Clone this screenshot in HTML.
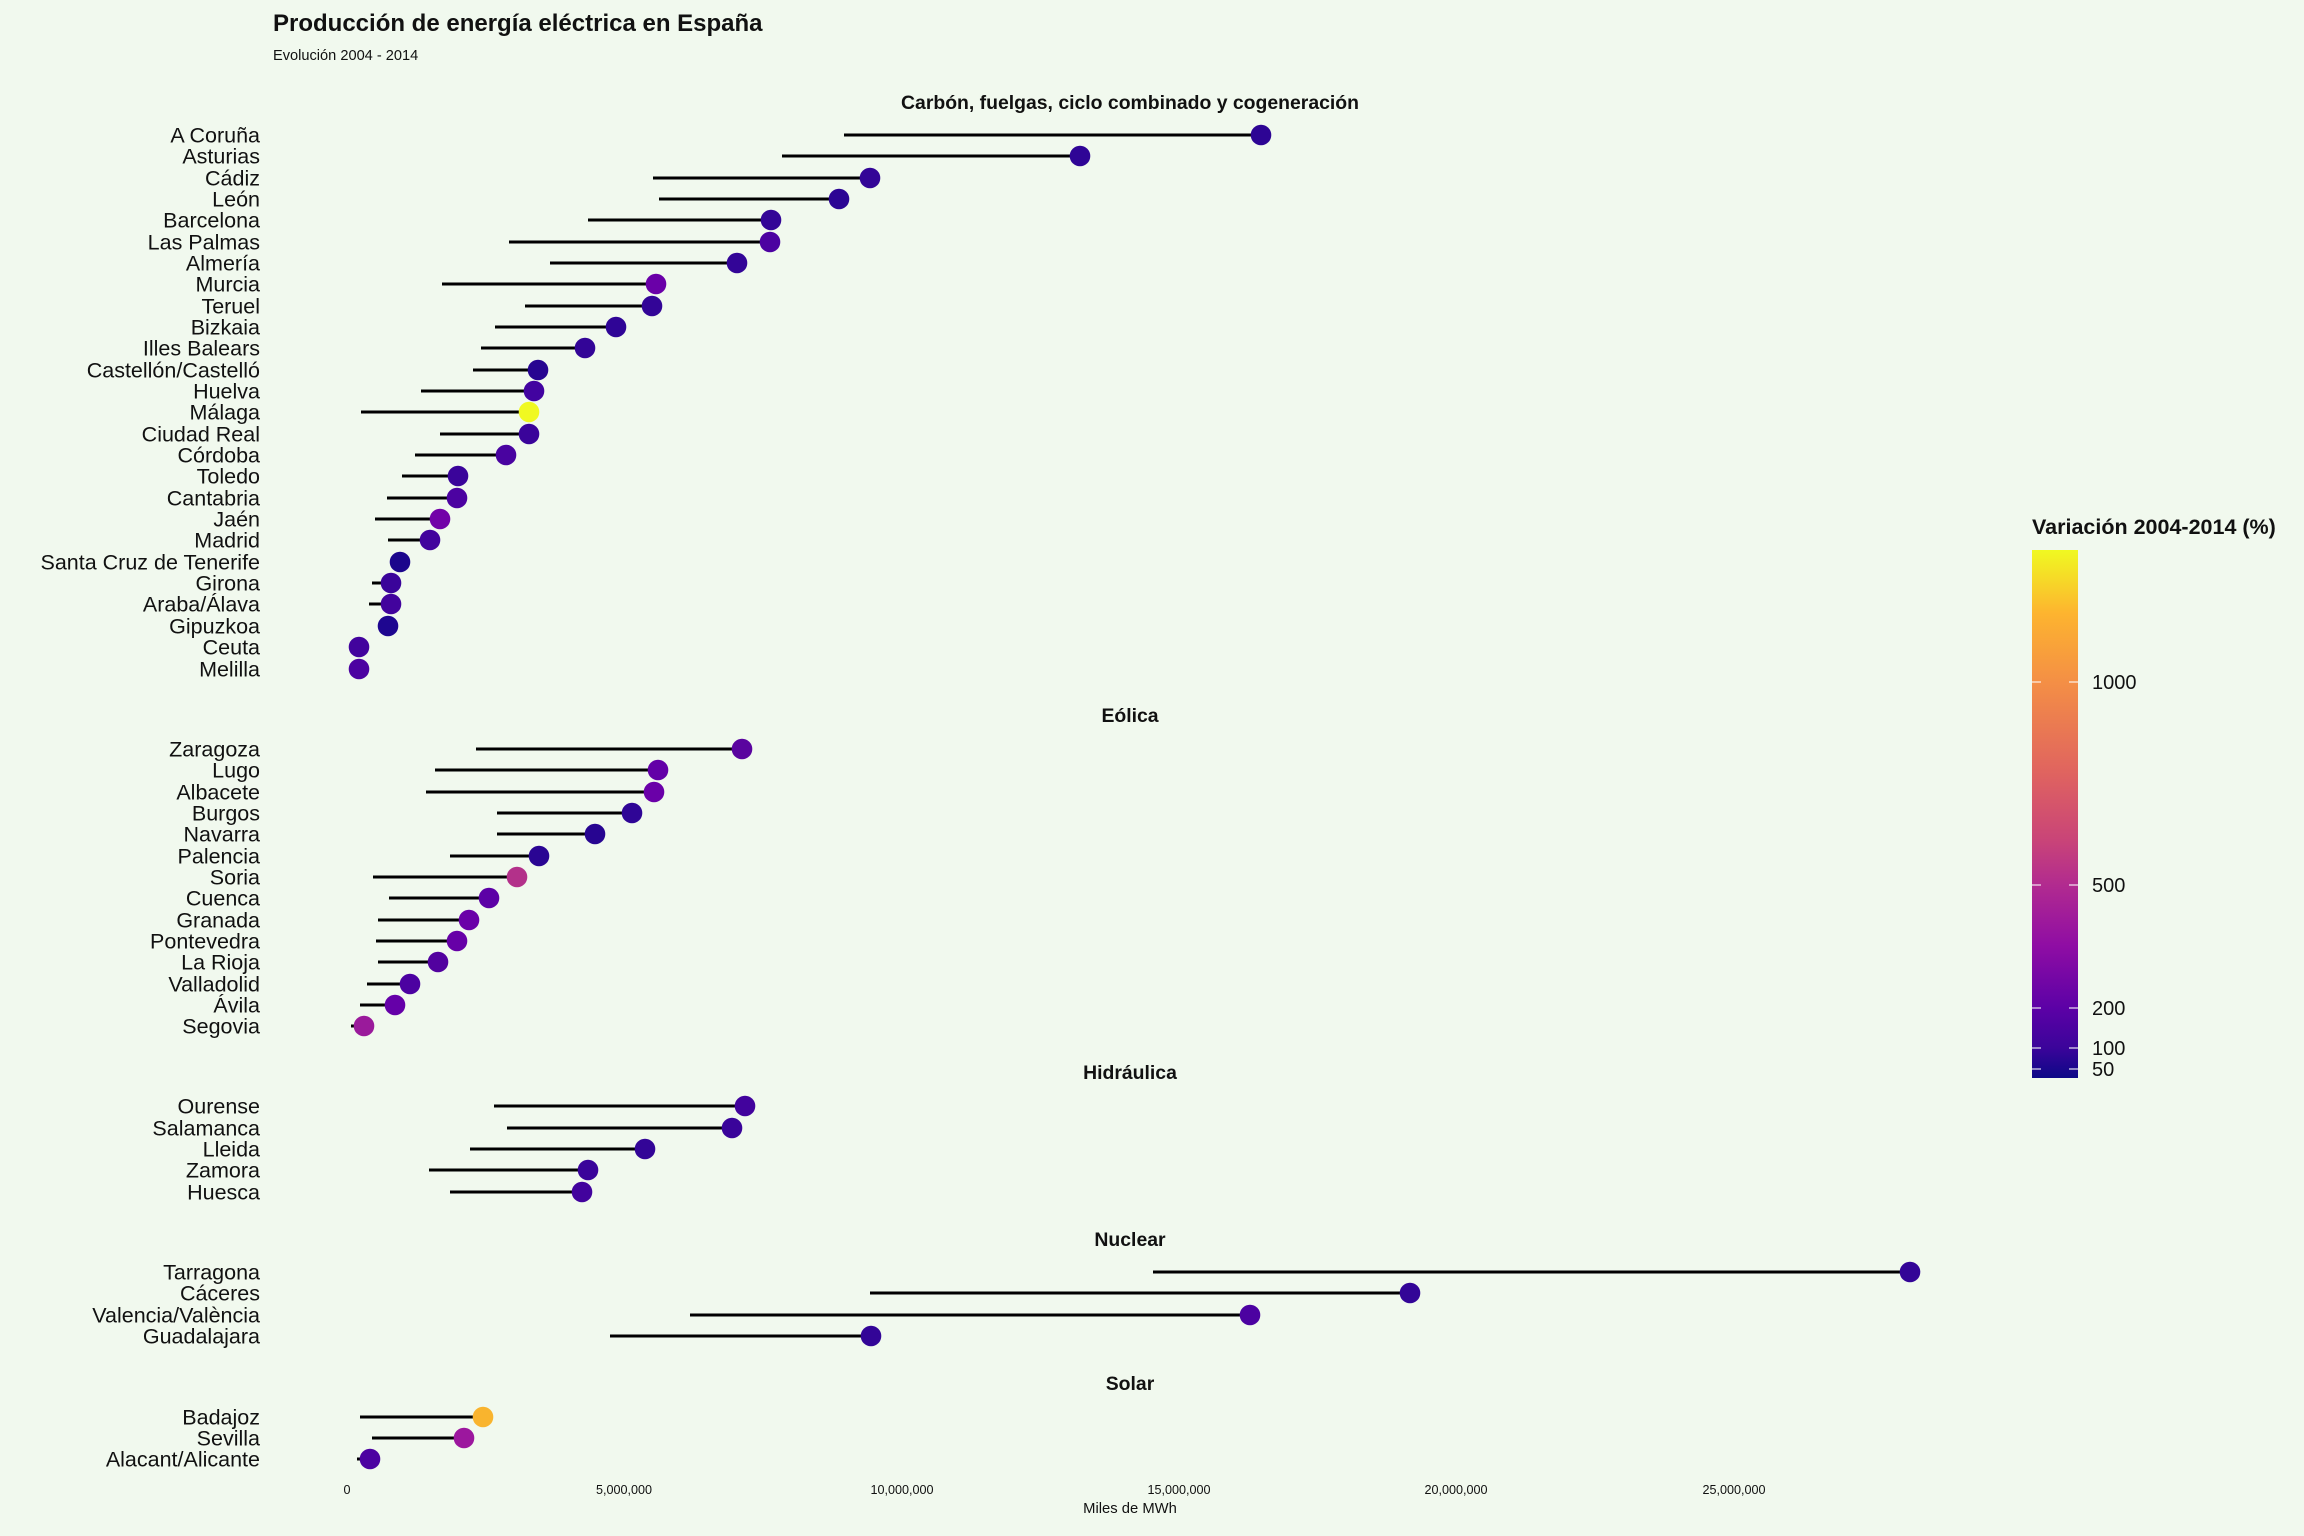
<!DOCTYPE html>
<html><head><meta charset="utf-8"><style>
html,body{margin:0;padding:0;background:#f1f9ee;}
svg{display:block;font-family:"Liberation Sans",Arial,sans-serif;}
</style></head><body>
<svg width="2304" height="1536" viewBox="0 0 2304 1536" xmlns="http://www.w3.org/2000/svg">
<defs>
<linearGradient id="pl" x1="0" y1="0" x2="0" y2="1">
<stop offset="0" stop-color="#f0f921"/>
<stop offset="0.12" stop-color="#fdb42f"/>
<stop offset="0.25" stop-color="#f48f45"/>
<stop offset="0.42" stop-color="#e0645f"/>
<stop offset="0.55" stop-color="#c94478"/>
<stop offset="0.637" stop-color="#b12a90"/>
<stop offset="0.75" stop-color="#8f0da4"/>
<stop offset="0.867" stop-color="#5c01a6"/>
<stop offset="0.943" stop-color="#3b049a"/>
<stop offset="1" stop-color="#0d0887"/>
</linearGradient>
</defs>
<rect width="2304" height="1536" fill="#f1f9ee"/>
<text x="273" y="31" font-size="24" font-weight="bold" fill="#111">Producción de energía eléctrica en España</text>
<text x="273" y="60" font-size="14.6" fill="#111">Evolución 2004 - 2014</text>

<g font-size="19.4" font-weight="bold" fill="#111" text-anchor="middle">
<text x="1130" y="109">Carbón, fuelgas, ciclo combinado y cogeneración</text>
<text x="1130" y="722">Eólica</text>
<text x="1130" y="1079">Hidráulica</text>
<text x="1130" y="1246">Nuclear</text>
<text x="1130" y="1390">Solar</text>
</g>

<g font-size="21.5" fill="#111" text-anchor="end" id="labels"></g>
<g stroke="#000" stroke-width="3" id="lines"></g>
<g id="dots"></g>

<g font-size="12.6" fill="#111" text-anchor="middle">
<text x="347" y="1494">0</text>
<text x="624" y="1494">5,000,000</text>
<text x="902" y="1494">10,000,000</text>
<text x="1179" y="1494">15,000,000</text>
<text x="1456" y="1494">20,000,000</text>
<text x="1734" y="1494">25,000,000</text>
<text x="1130" y="1513" font-size="14.8">Miles de MWh</text>
</g>

<text x="2032" y="534" font-size="21.5" font-weight="bold" fill="#111">Variación 2004-2014 (%)</text>
<rect x="2032" y="550" width="46" height="528" fill="url(#pl)"/>
<g stroke="#ffffff" stroke-opacity="0.7" stroke-width="1.5">
<line x1="2032" y1="682" x2="2041" y2="682"/><line x1="2069" y1="682" x2="2078" y2="682"/>
<line x1="2032" y1="885" x2="2041" y2="885"/><line x1="2069" y1="885" x2="2078" y2="885"/>
<line x1="2032" y1="1008" x2="2041" y2="1008"/><line x1="2069" y1="1008" x2="2078" y2="1008"/>
<line x1="2032" y1="1048" x2="2041" y2="1048"/><line x1="2069" y1="1048" x2="2078" y2="1048"/>
<line x1="2032" y1="1069" x2="2041" y2="1069"/><line x1="2069" y1="1069" x2="2078" y2="1069"/>
</g>
<g font-size="20" fill="#111">
<text x="2092" y="689">1000</text>
<text x="2092" y="892">500</text>
<text x="2092" y="1015">200</text>
<text x="2092" y="1055">100</text>
<text x="2092" y="1076">50</text>
</g>
</svg>
<script>
var D=[
["A Coruña",135,844,1261,"#2d0594"],["Asturias",156,782,1080,"#2f0596"],["Cádiz",178,653,870,"#330597"],["León",199,659,839,"#2c0594"],
["Barcelona",220,588,771,"#330597"],["Las Palmas",242,509,770,"#4c02a1"],["Almería",263,550,737,"#330597"],["Murcia",284,442,656,"#6a00a8"],
["Teruel",306,525,652,"#330597"],["Bizkaia",327,495,616,"#2f0596"],["Illes Balears",348,481,585,"#330597"],["Castellón/Castelló",370,473,538,"#270591"],
["Huelva",391,421,534,"#4203a0"],["Málaga",412,361,529,"#f0f921"],["Ciudad Real",434,440,529,"#3a049a"],["Córdoba",455,415,506,"#4903a0"],
["Toledo",476,402,458,"#3a049a"],["Cantabria",498,387,457,"#4c02a1"],["Jaén",519,375,440,"#7201a8"],["Madrid",540,388,430,"#42039d"],
["Santa Cruz de Tenerife",562,null,400,"#1b068c"],["Girona",583,372,391,"#3a049a"],["Araba/Álava",604,369,391,"#42039d"],["Gipuzkoa",626,380,388,"#1e0690"],
["Ceuta",647,null,359,"#42039d"],["Melilla",669,null,359,"#4c02a1"],
["Zaragoza",749,476,742,"#5a049f"],["Lugo",770,435,658,"#6300a7"],["Albacete",792,426,654,"#6a00a8"],["Burgos",813,497,632,"#2f0596"],
["Navarra",834,497,595,"#270591"],["Palencia",856,450,539,"#2a0593"],["Soria",877,373,517,"#b3318a"],["Cuenca",898,389,489,"#5c01a6"],
["Granada",920,378,469,"#6a00a8"],["Pontevedra",941,376,457,"#6600a7"],["La Rioja",962,378,438,"#52029f"],["Valladolid",984,367,410,"#4c02a1"],
["Ávila",1005,360,395,"#6500a8"],["Segovia",1026,351,364,"#9a1a9b"],
["Ourense",1106,494,745,"#42039d"],["Salamanca",1128,507,732,"#3a049a"],["Lleida",1149,470,645,"#330597"],["Zamora",1170,429,588,"#3a049a"],["Huesca",1192,450,582,"#42039d"],
["Tarragona",1272,1153,1910,"#330597"],["Cáceres",1293,870,1410,"#330597"],["Valencia/València",1315,690,1250,"#4c02a1"],["Guadalajara",1336,610,871,"#330597"],
["Badajoz",1417,360,483,"#f9b42e"],["Sevilla",1438,372,464,"#9c179e"],["Alacant/Alicante",1459,357,370,"#4c02a1"]
];
var NS="http://www.w3.org/2000/svg",L=document.getElementById("labels"),Ln=document.getElementById("lines"),Dt=document.getElementById("dots");
D.forEach(function(d){
 var t=document.createElementNS(NS,"text");t.setAttribute("x",260);t.setAttribute("y",d[1]+7.5);t.textContent=d[0];L.appendChild(t);
 if(d[2]!==null){var l=document.createElementNS(NS,"line");l.setAttribute("x1",d[2]);l.setAttribute("x2",d[3]);l.setAttribute("y1",d[1]);l.setAttribute("y2",d[1]);Ln.appendChild(l);}
 var c=document.createElementNS(NS,"circle");c.setAttribute("cx",d[3]);c.setAttribute("cy",d[1]);c.setAttribute("r",10.3);c.setAttribute("fill",d[4]);Dt.appendChild(c);
});
</script>
</body></html>
